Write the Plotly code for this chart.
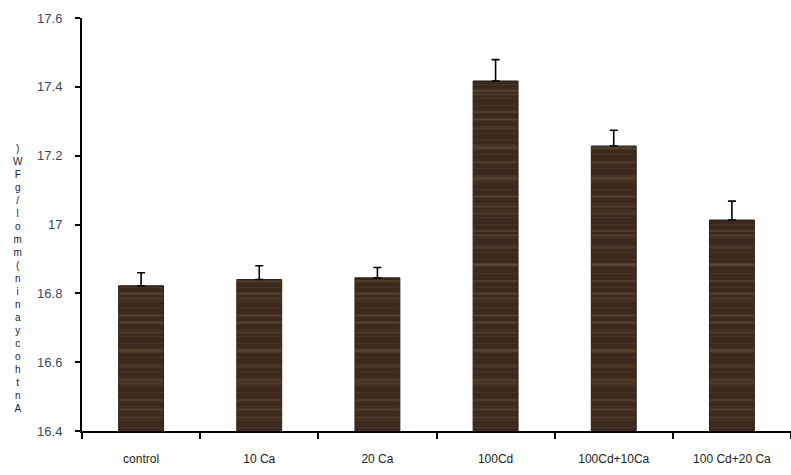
import plotly.graph_objects as go

# Anthocyanin content per treatment, with upper standard error
treatments = ["control", "10 Ca", "20 Ca", "100Cd", "100Cd+10Ca", "100 Cd+20 Ca"]
anthocyanin = [16.822, 16.840, 16.845, 17.417, 17.228, 17.013]
std_error = [0.038, 0.040, 0.030, 0.062, 0.046, 0.055]

y_ticks = [16.4, 16.6, 16.8, 17.0, 17.2, 17.4, 17.6]
y_title = "Anthocyanin(mmol/gFW)"

W, H = 791, 475
L, R, T, B = 82, 0, 18, 44

fig = go.Figure()

# Wood-grain look: dark base bars plus translucent stripe layers of different pitch
fig.add_trace(go.Bar(
    x=treatments, y=anthocyanin, base=0, width=0.38,
    marker=dict(
        color="#3b2a1d",
        line=dict(color="#2a1d14", width=1),
        pattern=dict(shape="-", size=7, solidity=0.15,
                     fgcolor="#55422e", bgcolor="#3b2a1d"),
    ),
    error_y=dict(type="data", array=std_error, arrayminus=[0] * len(std_error),
                 symmetric=False, color="black", thickness=1.6, width=4),
    hoverinfo="skip", showlegend=False,
))
for size, solidity, fg in [(17, 0.12, "rgba(150,120,80,0.40)"),
                           (29, 0.08, "rgba(170,140,95,0.35)")]:
    fig.add_trace(go.Bar(
        x=treatments, y=anthocyanin, base=0, width=0.38,
        marker=dict(
            color="rgba(0,0,0,0)",
            line=dict(width=0),
            pattern=dict(shape="-", size=size, solidity=solidity,
                         fgcolor=fg, bgcolor="rgba(0,0,0,0)"),
        ),
        hoverinfo="skip", showlegend=False,
    ))

# Vertical axis title drawn as upright characters stacked bottom-to-top
fig.add_annotation(
    text="<br>".join(reversed(y_title)),
    xref="paper", yref="paper",
    x=(18 - L) / (W - L - R), y=(H - B - 278) / (H - T - B),
    showarrow=False, xanchor="center", yanchor="middle", align="center",
    font=dict(family="Liberation Sans, Arial", size=10, color="#1c1c3a"),
)

fig.update_layout(
    width=W, height=H,
    margin=dict(l=L, r=R, t=T, b=B, pad=0),
    paper_bgcolor="white", plot_bgcolor="white",
    barmode="overlay",
    font=dict(family="Liberation Sans Narrow, Arial Narrow, Arial", size=12, color="#2f3b57"),
    xaxis=dict(
        type="category", range=[-0.5, 5.5],
        showline=True, linecolor="black", linewidth=2,
        ticks="outside", tickson="boundaries", ticklen=6, tickwidth=2, tickcolor="black",
        ticklabelstandoff=16,
        showgrid=False, zeroline=False,
        tickfont=dict(size=12, color="#222"),
    ),
    yaxis=dict(
        range=[16.4, 17.6], tickvals=y_ticks,
        ticktext=[("%g" % v) for v in y_ticks],
        showline=True, linecolor="black", linewidth=2,
        ticks="outside", ticklen=5, tickwidth=2, tickcolor="black",
        ticklabelstandoff=10,
        showgrid=False, zeroline=False,
        tickfont=dict(size=13, color="#3a4763"),
    ),
)

fig.write_html("out.html")
